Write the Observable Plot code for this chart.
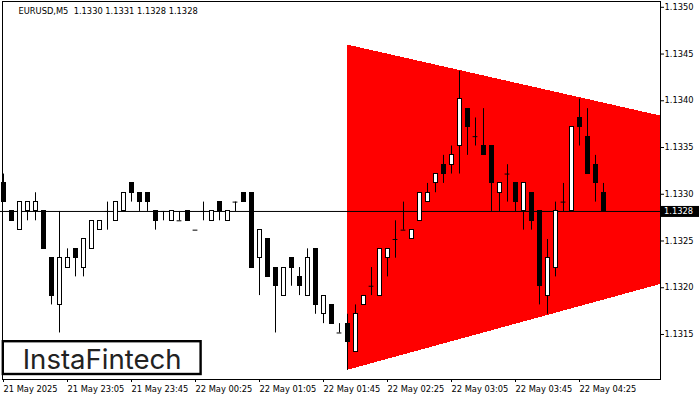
<!DOCTYPE html>
<html><head><meta charset="utf-8">
<script src="https://cdn.jsdelivr.net/npm/d3@7"></script>
<script src="https://cdn.jsdelivr.net/npm/@observablehq/plot@0.6"></script>
<style>
html,body{margin:0;padding:0;background:#fff;}
#wrap{position:relative;width:700px;height:400px;overflow:hidden;background:#fff;}
</style></head>
<body><div id="wrap"></div>
<script>
const titleText = "EURUSD,M5  1.1330 1.1331 1.1328 1.1328";
const opens  = [1.1331,1.1328,1.1326,1.1328,1.1328,1.1328,1.1323,1.1318,1.1322,1.1324,1.1322,1.1324,1.1326,1.1328,1.1327,1.1328,1.1331,1.1330,1.1330,1.1328,1.1328,1.1327,1.1327,1.1328,1.1326,1.1328,1.1327,1.1329,1.1327,1.1329,1.1330,1.1330,1.1323,1.1325,1.1322,1.1319,1.1323,1.1321,1.1319,1.1324,1.1317,1.1318,1.1315,1.1316,1.1313,1.1318,1.1320,1.1319,1.1323,1.1325,1.1326,1.1325,1.1327,1.1329,1.1331,1.1333,1.1333,1.1335,1.1339,1.1336,1.1335,1.1335,1.1330,1.1332,1.1331,1.1328,1.1330,1.1328,1.1319,1.1322,1.1329,1.1328,1.1338,1.1336,1.1333,1.1330];
const highs  = [1.1332,1.1328,1.1329,1.1329,1.1330,1.1328,1.1323,1.1328,1.1324,1.1324,1.1325,1.1327,1.1327,1.1329,1.1329,1.1330,1.1331,1.1330,1.1330,1.1328,1.1328,1.1328,1.1328,1.1328,1.1326,1.1329,1.1328,1.1329,1.1328,1.1329,1.1330,1.1330,1.1326,1.1325,1.1322,1.1322,1.1323,1.1322,1.1324,1.1324,1.1319,1.1318,1.1316,1.1317,1.1318,1.1319,1.1322,1.1324,1.1324,1.1327,1.1329,1.1326,1.1330,1.1331,1.1332,1.1334,1.1335,1.1343,1.1339,1.1338,1.1339,1.1335,1.1331,1.1333,1.1331,1.1331,1.1330,1.1328,1.1325,1.1329,1.1331,1.1337,1.1340,1.1339,1.1334,1.1331];
const lows   = [1.1329,1.1327,1.1326,1.1327,1.1327,1.1324,1.1318,1.1315,1.1322,1.1321,1.1321,1.1324,1.1326,1.1326,1.1327,1.1328,1.1329,1.1328,1.1328,1.1326,1.1327,1.1327,1.1327,1.1327,1.1326,1.1327,1.1327,1.1327,1.1327,1.1328,1.1329,1.1322,1.1319,1.1321,1.1315,1.1319,1.1320,1.1319,1.1319,1.1317,1.1316,1.1316,1.1315,1.1311,1.1313,1.1318,1.1319,1.1319,1.1321,1.1323,1.1326,1.1325,1.1327,1.1329,1.1330,1.1331,1.1332,1.1332,1.1334,1.1335,1.1334,1.1328,1.1328,1.1329,1.1328,1.1326,1.1326,1.1318,1.1317,1.1321,1.1328,1.1328,1.1335,1.1332,1.1329,1.1328];
const closes = [1.1329,1.1327,1.1329,1.1329,1.1329,1.1324,1.1319,1.1323,1.1323,1.1323,1.1325,1.1327,1.1327,1.1328,1.1329,1.1330,1.1330,1.1329,1.1329,1.1327,1.1328,1.1328,1.1327,1.1327,1.1326,1.1328,1.1328,1.1328,1.1328,1.1329,1.1329,1.1322,1.1326,1.1321,1.1320,1.1322,1.1322,1.1320,1.1323,1.1318,1.1319,1.1316,1.1315,1.1314,1.1317,1.1319,1.1320,1.1324,1.1324,1.1325,1.1326,1.1326,1.1330,1.1330,1.1332,1.1332,1.1334,1.1340,1.1337,1.1336,1.1334,1.1331,1.1331,1.1332,1.1329,1.1331,1.1327,1.1320,1.1323,1.1328,1.1329,1.1337,1.1337,1.1332,1.1331,1.1328];
const tickBars   = [0, 8, 16, 24, 32, 40, 48, 56, 64, 72];
const tickLabels = ["21 May 2025","21 May 23:05","21 May 23:45","22 May 00:25","22 May 01:05","22 May 01:45","22 May 02:25","22 May 03:05","22 May 03:45","22 May 04:25"];
const priceTicks = [1.1315, 1.1320, 1.1325, 1.1330, 1.1335, 1.1340, 1.1345, 1.1350];
const triBars  = [43, 82.2];
const triUpper = [1.13458, 1.13382];
const triLower = [1.13110, 1.13202];
const lastPrice = 1.1328;

const bars = opens.map((o, i) => ({i, open: o, high: highs[i], low: lows[i], close: closes[i]}));
const tri = triBars.map((b, j) => ({b, lo: triLower[j], hi: triUpper[j]}));
const FONT = "DejaVu Sans";

const chart = Plot.plot({
  width: 700, height: 400,
  marginLeft: 0, marginRight: 40, marginTop: 0, marginBottom: 21,
  style: {fontFamily: FONT, fontSize: "8.3px", color: "#000", background: "#fff"},
  x: {type: "linear", domain: [-0.375, 82.125], axis: null},
  y: {domain: [1.1310023, 1.1350567], axis: null},
  marks: [
    Plot.areaY(tri, {x: "b", y1: "lo", y2: "hi", fill: "#ff0000", clip: true, shapeRendering: "crispEdges"}),
    Plot.ruleY([lastPrice], {stroke: "#000", strokeWidth: 1}),
    Plot.ruleX(bars, {x: "i", y1: "low", y2: "high", stroke: "#000", strokeWidth: 1}),
    Plot.rect(bars.filter(d => d.open !== d.close), {
      x1: d => d.i - 0.25, x2: d => d.i + 0.25, y1: "open", y2: "close",
      fill: d => d.close > d.open ? "#fff" : "#000", stroke: "#000", strokeWidth: 1, shapeRendering: "crispEdges"
    }),
    Plot.ruleY(bars.filter(d => d.open === d.close), {
      x1: d => d.i - 0.3, x2: d => d.i + 0.3, y: "open", stroke: "#000", strokeWidth: 1
    }),
    Plot.frame({stroke: "#000", insetLeft: 2, insetTop: 1}),
    Plot.axisY(priceTicks, {anchor: "right", tickSize: 3, tickPadding: 1, dy: 1.5, textAnchor: "start",
      tickFormat: d => d.toFixed(4), fontSize: 8.3, stroke: "#000", fill: "#000"}),
    Plot.axisX(tickBars, {anchor: "bottom", tickSize: 3, tickPadding: 3.5, textAnchor: "start", dx: 0,
      tickFormat: d => tickLabels[tickBars.indexOf(d)], fontSize: 8.3, stroke: "#000", fill: "#000"}),
    Plot.text([titleText], {frameAnchor: "top-left", dx: 18, dy: 11.3, lineAnchor: "middle", textAnchor: "start", fontSize: 8.3, fill: "#000"})
  ]
});
document.getElementById("wrap").appendChild(chart);

// current price tag on the right axis, placed through the scales
const svg = d3.select(chart);
const yPx = chart.scale("y").apply(lastPrice);
const xRight = chart.scale("x").range[1];
const tag = svg.append("g");
tag.append("rect").attr("x", xRight + 1).attr("y", yPx - 5).attr("width", 38).attr("height", 11).attr("fill", "#000");
tag.append("text").attr("x", xRight + 4).attr("y", yPx + 3.5).attr("fill", "#fff").attr("text-anchor", "start")
  .attr("font-family", FONT).attr("font-size", "8.3px").text(lastPrice.toFixed(4));

// watermark logo
const logo = svg.append("g");
logo.append("rect").attr("x", 2.8).attr("y", 341.2).attr("width", 197.8).attr("height", 32.8)
  .attr("fill", "#fff").attr("stroke", "#000").attr("stroke-width", 2.4);
logo.append("text").attr("x", 22.7).attr("y", 369.3).attr("text-anchor", "start").attr("font-family", "Inter").attr("font-weight", 400)
  .attr("font-size", "27.5px").attr("fill", "#222").attr("textLength", 159).attr("lengthAdjust", "spacingAndGlyphs")
  .text("InstaFintech");
</script>
</body></html>
